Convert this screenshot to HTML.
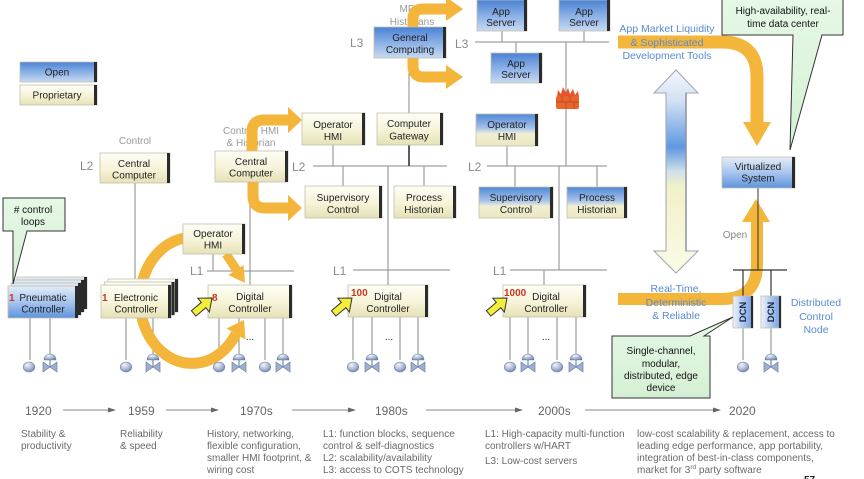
<!DOCTYPE html>
<html><head><meta charset="utf-8"><style>
html,body{margin:0;padding:0;background:#fff;}
svg{display:block;font-family:"Liberation Sans",Arial,sans-serif;}
.bt{font-size:10px;fill:#222;text-anchor:middle;}
.lb{font-size:12px;fill:#8a8a8a;}
.gt{font-size:10px;fill:#999;text-anchor:middle;}
.bl{font-size:10.5px;fill:#5a8ad2;text-anchor:middle;}
.ds{font-size:10px;fill:#6a6a6a;}
.yr{font-size:12px;fill:#666;}
.rd{font-size:10px;fill:#cc3322;font-weight:bold;}
.ct{font-size:10px;fill:#111;text-anchor:middle;}
</style></head><body>
<svg width="864" height="479" viewBox="0 0 864 479" xmlns="http://www.w3.org/2000/svg">
<defs>
<linearGradient id="cr" x1="0" y1="0" x2="0" y2="1"><stop offset="0" stop-color="#fefef6"/><stop offset=".55" stop-color="#f6f3d8"/><stop offset="1" stop-color="#e5e1b6"/></linearGradient>
<linearGradient id="bu" x1="0" y1="0" x2="0" y2="1"><stop offset="0" stop-color="#4a82d3"/><stop offset=".5" stop-color="#8ab0e6"/><stop offset="1" stop-color="#c8daf3"/></linearGradient>
<linearGradient id="bu2" x1="0" y1="0" x2="0" y2="1"><stop offset="0" stop-color="#e3ecf8"/><stop offset=".5" stop-color="#a9c5ee"/><stop offset="1" stop-color="#5f93dc"/></linearGradient>
<linearGradient id="mx" x1="0" y1="0" x2="0" y2="1"><stop offset="0" stop-color="#4f87d6"/><stop offset=".45" stop-color="#a9c4eb"/><stop offset=".62" stop-color="#f1efd2"/><stop offset="1" stop-color="#ebe7c2"/></linearGradient>
<linearGradient id="dc" x1="0" y1="0" x2="1" y2="0"><stop offset="0" stop-color="#eef3fb"/><stop offset="1" stop-color="#6f9ce0"/></linearGradient>
<linearGradient id="db" x1="0" y1="0" x2="0" y2="1"><stop offset="0" stop-color="#f4f7fc"/><stop offset=".15" stop-color="#d3e1f4"/><stop offset=".38" stop-color="#5f98e2"/><stop offset=".5" stop-color="#cfe0ea"/><stop offset=".57" stop-color="#f0f1c8"/><stop offset="1" stop-color="#fbfbe6"/></linearGradient>
<linearGradient id="cl" x1="0" y1="0" x2="0" y2="1"><stop offset="0" stop-color="#e6f8e6"/><stop offset="1" stop-color="#d4f0d4"/></linearGradient>
<radialGradient id="sp" cx=".38" cy=".3" r=".75"><stop offset="0" stop-color="#f2f5fa"/><stop offset=".6" stop-color="#a7b7d2"/><stop offset="1" stop-color="#6a80a8"/></radialGradient>
<g id="sen"><ellipse cx="0" cy="0" rx="5.8" ry="5" fill="url(#sp)" stroke="#7087ad" stroke-width=".6"/></g>
<g id="val"><path d="M-6 -7 A6 6 0 0 1 6 -7 Z" fill="url(#sp)" stroke="#7087ad" stroke-width=".6"/><line x1="0" y1="-7" x2="0" y2="0" stroke="#7087ad" stroke-width="1.2"/><path d="M-7 -5 L0 0 L-7 5 Z M7 -5 L0 0 L7 5 Z" fill="#9fb0cf" stroke="#6a80a8" stroke-width=".7"/></g>
<polygon id="ptr" points="0,-3.5 13,-3.5 13,-9 24,0 13,9 13,3.5 0,3.5" fill="#f2ee3a" stroke="#333" stroke-width="1"/>
</defs>

<!-- connector lines -->
<path d="M135 183V280 M30 318V360 M50 318V355 M126 318V360 M153 318V355 M250 182V285 M213 254V271 M207 271H294 M219 318V360 M239 318V355 M265 318V360 M283 318V355 M409 58V113 M333 145V166 M313 166H447 M343 166V186 M424 166V186 M388 166V285 M353 270H450 M353 317V360 M372 317V355 M400 317V360 M418 317V355 M475 42H609 M502 31V42 M584 31V42 M516 42V53 M566 42V166 M487 166H607 M507 146V166 M515 166V187 M597 166V187 M559 166V270 M510 270H607 M544 270V285 M510 317V360 M528 317V355 M557 317V360 M576 317V355 M743 328V360 M771 328V355" stroke="#8a8a8a" stroke-width="1" fill="none"/>
<path d="M409 145V166" stroke="#333" stroke-width="1.6"/>

<!-- gray labels -->
<text class="gt" x="135" y="144">Control</text>
<text class="gt" x="251" y="134">Control, HMI</text>
<text class="gt" x="251" y="146">&amp; Historian</text>
<text class="gt" x="412" y="12">MPC,</text>
<text class="gt" x="412" y="25">Historians</text>

<!-- yellow arrows -->
<g fill="none" stroke="#f3b53a" stroke-width="11">
<path d="M252 152 L252 132 Q252 120 264 120 L290 120"/>
<path d="M253 181 L253 196 Q253 208 265 208 L290 208"/>
<path d="M413 28 L413 19 Q413 9 423 9 L448 9"/>
<path d="M413 57 L413 66 Q413 77 424 77 L448 77"/>
<path d="M185 238 A52 63 0 1 0 236 334"/>
<path d="M226 254 L238 272" stroke-width="9"/>
<path d="M618 42 L722 42 Q757 42 757 77 L757 124" stroke-width="13"/>
<path d="M618 299 L722 299 Q757 299 757 264 L757 220" stroke-width="12"/>
</g>
<g fill="#f3b53a">
<polygon points="288,107 302,120 288,133"/>
<polygon points="288,195 302,208 288,221"/>
<polygon points="446,-3 463,9 446,21"/>
<polygon points="446,65 463,77 446,89"/>
<polygon points="244,320 245.5,339.5 226.5,328.5"/>
<polygon points="243.5,265 228.5,275 245,283"/>
<polygon points="743,122 771,122 757,146"/>
<polygon points="742,222 770,222 756,199"/>
</g>
<path d="M758 188V270" stroke="#333" stroke-width="1"/>
<path d="M733 270H787 M743 270V297 M771 270V297" stroke="#333" stroke-width="1.2" fill="none"/>

<!-- double arrow -->
<polygon points="676,70 698,93 686,93 686,251 698,251 676,273 654,251 666,251 666,93 654,93" fill="url(#db)" stroke="#9ea5ae" stroke-width="1"/>
<line x1="686" y1="93" x2="686" y2="251" stroke="#8c939c" stroke-width="1.5"/>

<!-- firewall -->
<polygon points="557,97 558,90 561,94 563,87 566,93 568,88 570,94 573,89 575,95 578,91 579,97" fill="#e8542a"/>
<rect x="556" y="96" width="23" height="13" rx="2" fill="#e8652e"/>
<path d="M556 102H579 M562 96V102 M570 96V102 M566 102V109 M574 102V109" stroke="#b6401b" stroke-width=".7"/>

<!-- boxes -->
<g stroke="#c2c0ad" stroke-width=".8">
<rect x="20" y="62" width="77" height="20" fill="url(#bu)"/>
<rect x="20" y="85" width="77" height="20" fill="url(#cr)"/>
<rect x="100" y="153" width="70" height="30" fill="url(#cr)"/>
<rect x="215" y="151" width="73" height="31" fill="url(#cr)"/>
<rect x="183" y="224" width="62" height="30" fill="url(#cr)"/>
<rect x="208" y="285" width="84" height="33" fill="url(#cr)"/>
<rect x="17" y="277" width="70" height="32" fill="url(#bu2)"/>
<rect x="14" y="280" width="70" height="32" fill="url(#bu2)"/>
<rect x="11" y="283" width="70" height="32" fill="url(#bu2)"/>
<rect x="8" y="286" width="70" height="32" fill="url(#bu2)"/>
<rect x="108" y="279" width="70" height="33" fill="url(#cr)"/>
<rect x="104.5" y="282" width="70" height="33" fill="url(#cr)"/>
<rect x="101" y="285" width="70" height="33" fill="url(#cr)"/>
<rect x="302" y="113" width="63" height="32" fill="url(#cr)"/>
<rect x="377" y="113" width="66" height="32" fill="url(#cr)"/>
<rect x="374" y="27" width="72" height="31" fill="url(#bu)"/>
<rect x="305" y="186" width="77" height="32" fill="url(#cr)"/>
<rect x="394" y="186" width="62" height="32" fill="url(#cr)"/>
<rect x="348" y="285" width="80" height="32" fill="url(#cr)"/>
<rect x="477" y="0" width="50" height="31" fill="url(#bu)"/>
<rect x="559" y="0" width="51" height="31" fill="url(#bu)"/>
<rect x="491" y="53" width="51" height="30" fill="url(#bu)"/>
<rect x="476" y="114" width="62" height="32" fill="url(#mx)"/>
<rect x="479" y="187" width="74" height="31" fill="url(#mx)"/>
<rect x="567" y="187" width="60" height="31" fill="url(#mx)"/>
<rect x="503" y="285" width="83" height="32" fill="url(#cr)"/>
<rect x="722" y="157" width="73" height="31" fill="url(#bu2)"/>
<rect x="733" y="296" width="20" height="32" fill="url(#dc)"/>
<rect x="761" y="296" width="20" height="32" fill="url(#dc)"/>
</g>
<!-- right dark bevel bars -->
<g fill="#2b2b2b">
<rect x="94" y="62" width="3" height="20"/>
<rect x="94" y="85" width="3" height="20"/>
<rect x="167" y="153" width="3" height="30"/>
<rect x="285" y="151" width="3" height="31"/>
<rect x="242" y="224" width="3" height="30"/>
<rect x="289" y="285" width="3" height="33"/>
<rect x="84" y="277" width="3" height="32"/>
<rect x="81" y="280" width="3" height="32"/>
<rect x="78" y="283" width="3" height="32"/>
<rect x="75" y="286" width="3" height="32"/>
<rect x="175" y="279" width="3" height="33"/>
<rect x="171.5" y="282" width="3" height="33"/>
<rect x="168" y="285" width="3" height="33"/>
<rect x="362" y="113" width="3" height="32"/>
<rect x="440" y="113" width="3" height="32"/>
<rect x="443" y="27" width="3" height="31"/>
<rect x="379" y="186" width="3" height="32"/>
<rect x="453" y="186" width="3" height="32"/>
<rect x="425" y="285" width="3" height="32"/>
<rect x="524" y="0" width="3" height="31"/>
<rect x="607" y="0" width="3" height="31"/>
<rect x="539" y="53" width="3" height="30"/>
<rect x="535" y="114" width="3" height="32"/>
<rect x="550" y="187" width="3" height="31"/>
<rect x="624" y="187" width="3" height="31"/>
<rect x="583" y="285" width="3" height="32"/>
<rect x="792" y="157" width="3" height="31"/>
<rect x="751" y="296" width="2" height="32"/>
<rect x="779" y="296" width="2" height="32"/>
</g>

<!-- box texts -->
<text class="bt" x="57" y="75.5">Open</text>
<text class="bt" x="57" y="98.5">Proprietary</text>
<text class="bt" x="134" y="167">Central</text><text class="bt" x="134" y="178.5">Computer</text>
<text class="bt" x="251" y="165">Central</text><text class="bt" x="251" y="176.5">Computer</text>
<text class="bt" x="213" y="237">Operator</text><text class="bt" x="213" y="248.5">HMI</text>
<text class="bt" x="250" y="300">Digital</text><text class="bt" x="250" y="312">Controller</text>
<text class="bt" x="43" y="301">Pneumatic</text><text class="bt" x="43" y="312.5">Controller</text>
<text class="bt" x="136" y="301">Electronic</text><text class="bt" x="136" y="312.5">Controller</text>
<text class="bt" x="333" y="128">Operator</text><text class="bt" x="333" y="140">HMI</text>
<text class="bt" x="409" y="127">Computer</text><text class="bt" x="409" y="139.5">Gateway</text>
<text class="bt" x="410" y="41">General</text><text class="bt" x="410" y="53">Computing</text>
<text class="bt" x="343" y="201">Supervisory</text><text class="bt" x="343" y="213">Control</text>
<text class="bt" x="424" y="201">Process</text><text class="bt" x="424" y="213">Historian</text>
<text class="bt" x="388" y="300">Digital</text><text class="bt" x="388" y="312">Controller</text>
<text class="bt" x="501" y="15">App</text><text class="bt" x="501" y="26">Server</text>
<text class="bt" x="584" y="15">App</text><text class="bt" x="584" y="26">Server</text>
<text class="bt" x="516" y="67">App</text><text class="bt" x="516" y="78">Server</text>
<text class="bt" x="507" y="128">Operator</text><text class="bt" x="507" y="140">HMI</text>
<text class="bt" x="516" y="201">Supervisory</text><text class="bt" x="516" y="213">Control</text>
<text class="bt" x="597" y="201">Process</text><text class="bt" x="597" y="213">Historian</text>
<text class="bt" x="546" y="300">Digital</text><text class="bt" x="546" y="312">Controller</text>
<text class="bt" x="758" y="170">Virtualized</text><text class="bt" x="758" y="181.5">System</text>
<text x="746" y="312" font-size="9.5" font-weight="bold" fill="#1c2a4a" text-anchor="middle" transform="rotate(-90 746 312)">DCN</text>
<text x="774" y="312" font-size="9.5" font-weight="bold" fill="#1c2a4a" text-anchor="middle" transform="rotate(-90 774 312)">DCN</text>

<!-- red counts -->
<text class="rd" x="9" y="301">1</text>
<text class="rd" x="102" y="301">1</text>
<text class="rd" x="212" y="301">8</text>
<text class="rd" x="351" y="296" font-size="9.5">100</text>
<text class="rd" x="504" y="296" font-size="9.5">1000</text>

<!-- pointer arrows -->
<use href="#ptr" transform="translate(212 298) rotate(-40) translate(-24 0)"/>
<use href="#ptr" transform="translate(352 298) rotate(-40) translate(-24 0)"/>
<use href="#ptr" transform="translate(507 298) rotate(-40) translate(-24 0)"/>

<!-- devices -->
<use href="#sen" x="29" y="367"/><use href="#val" x="50" y="367"/>
<use href="#sen" x="126" y="367"/><use href="#val" x="153" y="367"/>
<use href="#sen" x="219" y="367"/><use href="#val" x="239" y="367"/>
<use href="#sen" x="265" y="367"/><use href="#val" x="283" y="367"/>
<use href="#sen" x="353" y="367"/><use href="#val" x="372" y="367"/>
<use href="#sen" x="400" y="367"/><use href="#val" x="418" y="367"/>
<use href="#sen" x="510" y="367"/><use href="#val" x="528" y="367"/>
<use href="#sen" x="557" y="367"/><use href="#val" x="576" y="367"/>
<use href="#sen" x="743" y="367"/><use href="#val" x="771" y="367"/>
<text x="250" y="340" font-size="10" fill="#222" text-anchor="middle">...</text>
<text x="389" y="340" font-size="10" fill="#222" text-anchor="middle">...</text>
<text x="546" y="340" font-size="10" fill="#222" text-anchor="middle">...</text>

<!-- L labels -->
<text class="lb" x="80" y="170">L2</text>
<text class="lb" x="292" y="171">L2</text>
<text class="lb" x="190" y="275">L1</text>
<text class="lb" x="350" y="47">L3</text>
<text class="lb" x="333" y="275">L1</text>
<text class="lb" x="455" y="48">L3</text>
<text class="lb" x="468" y="171">L2</text>
<text class="lb" x="493" y="275">L1</text>

<!-- blue notes -->
<text class="bl" x="667" y="32">App Market Liquidity</text>
<text class="bl" x="667" y="46">&amp; Sophisticated</text>
<text class="bl" x="667" y="59">Development Tools</text>
<text class="bl" x="676" y="292">Real-Time,</text>
<text class="bl" x="676" y="306">Deterministic</text>
<text class="bl" x="676" y="319">&amp; Reliable</text>
<text class="bl" x="816" y="306" font-size="11">Distributed</text>
<text class="bl" x="816" y="320" font-size="11">Control</text>
<text class="bl" x="816" y="333" font-size="11">Node</text>
<text x="735" y="238" font-size="10" fill="#888" text-anchor="middle">Open</text>

<!-- callouts -->
<path d="M3 198 H65 V231 H27 L13 284 L13 231 H3 Z" fill="url(#cl)" stroke="#333" stroke-width="1"/>
<text class="ct" x="33" y="213">#&#160;control</text>
<text class="ct" x="33" y="225">loops</text>
<path d="M722 -1 H843 V35 H822 L790 150 L793 35 H722 Z" fill="url(#cl)" stroke="#333" stroke-width="1"/>
<text class="ct" x="783" y="14">High-availability, real-</text>
<text class="ct" x="783" y="27">time data center</text>
<path d="M612 336 H690 L733 317 L704 336 H710 V398 H612 Z" fill="url(#cl)" stroke="#333" stroke-width="1"/>
<text class="ct" x="661" y="354">Single-channel,</text>
<text class="ct" x="661" y="367">modular,</text>
<text class="ct" x="661" y="379">distributed, edge</text>
<text class="ct" x="661" y="391">device</text>

<!-- timeline -->
<g stroke="#888" stroke-width="1">
<line x1="63" y1="410" x2="110" y2="410"/>
<line x1="166" y1="410" x2="213" y2="410"/>
<line x1="292" y1="410" x2="350" y2="410"/>
<line x1="426" y1="410" x2="517" y2="410"/>
<line x1="585" y1="410" x2="715" y2="410"/>
</g>
<g fill="#666">
<polygon points="108,407.5 116,410 108,412.5"/>
<polygon points="211,407.5 219,410 211,412.5"/>
<polygon points="348,407.5 356,410 348,412.5"/>
<polygon points="515,407.5 523,410 515,412.5"/>
<polygon points="713,407.5 721,410 713,412.5"/>
</g>
<text class="yr" x="25" y="415">1920</text>
<text class="yr" x="128" y="415">1959</text>
<text class="yr" x="240" y="415">1970s</text>
<text class="yr" x="375" y="415">1980s</text>
<text class="yr" x="538" y="415">2000s</text>
<text class="yr" x="729" y="415">2020</text>

<text class="ds" x="21" y="437">Stability &amp;</text>
<text class="ds" x="21" y="449">productivity</text>
<text class="ds" x="120" y="437">Reliability</text>
<text class="ds" x="120" y="449">&amp; speed</text>
<text class="ds" x="207" y="437">History, networking,</text>
<text class="ds" x="207" y="449">flexible configuration,</text>
<text class="ds" x="207" y="461">smaller HMI footprint, &amp;</text>
<text class="ds" x="207" y="473">wiring cost</text>
<text class="ds" x="323" y="437">L1: function blocks, sequence</text>
<text class="ds" x="323" y="449">control &amp; self-diagnostics</text>
<text class="ds" x="323" y="461">L2: scalability/availability</text>
<text class="ds" x="323" y="473">L3: access to COTS technology</text>
<text class="ds" x="485" y="437">L1: High-capacity multi-function</text>
<text class="ds" x="485" y="449">controllers w/HART</text>
<text class="ds" x="485" y="464">L3: Low-cost servers</text>
<text class="ds" x="637" y="437">low-cost scalability &amp; replacement, access to</text>
<text class="ds" x="637" y="449">leading edge performance, app portability,</text>
<text class="ds" x="637" y="461">integration of best-in-class components,</text>
<text class="ds" x="637" y="473">market for 3<tspan font-size="6.5" dy="-4">rd</tspan><tspan dy="4"> party software</tspan></text>
<text x="804" y="483" font-size="10" font-weight="bold" fill="#222">57</text>
</svg>
</body></html>
